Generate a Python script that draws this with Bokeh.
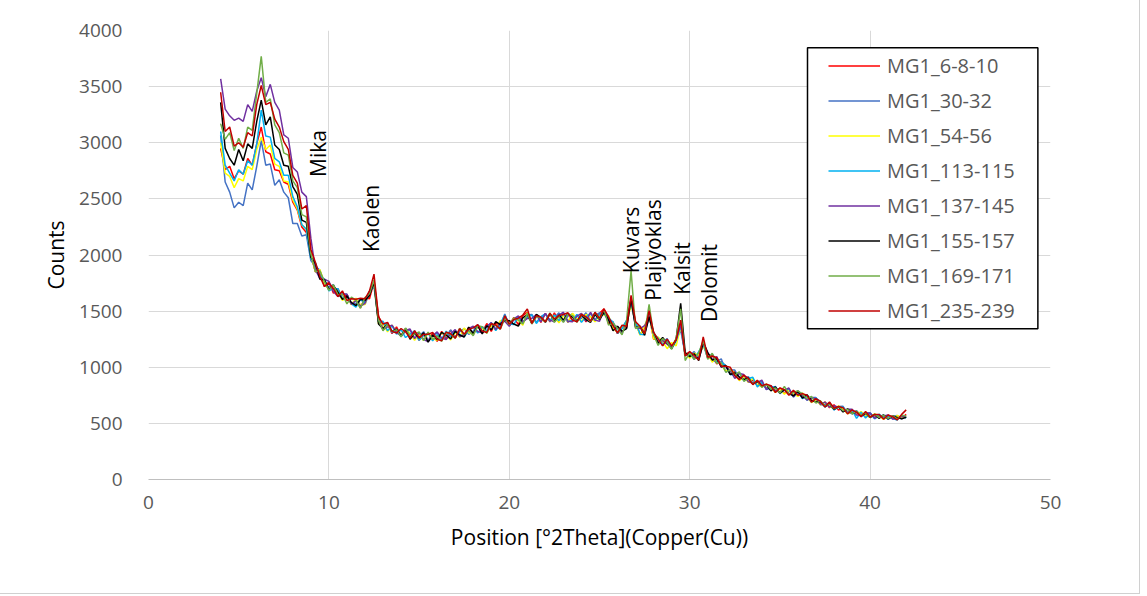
import numpy as np
from bokeh.plotting import figure
from bokeh.models import Range1d, FixedTicker, BoxAnnotation
from bokeh.core.properties import value
from bokeh.embed import file_html
from bokeh.resources import INLINE

# 2-theta positions (degrees), step 0.25 from 4 to 42
two_theta = np.round(np.arange(4.0, 42.001, 0.25), 2)

series_names = ["MG1_6-8-10", "MG1_30-32", "MG1_54-56", "MG1_113-115",
                "MG1_137-145", "MG1_155-157", "MG1_169-171", "MG1_235-239"]
series_colors = ["#FF0000", "#4472C4", "#FFFF00", "#00B0F0",
                 "#7030A0", "#000000", "#70AD47", "#C00000"]

mg1_6_8_10 = [
    2950, 2760, 2790, 2680, 2750, 2720, 2860, 2800, 2990, 3140, 2920, 2900,
    2760, 2750, 2650, 2630, 2470, 2400, 2250, 2200,
    2000, 1850, 1860, 1720, 1760, 1660, 1700, 1610, 1650, 1560, 1600, 1530,
    1620, 1610, 1760, 1460, 1330, 1390, 1300, 1360, 1280, 1345, 1260, 1320,
    1240, 1300, 1235, 1305, 1230, 1320, 1250, 1330, 1260, 1345, 1280, 1355,
    1290, 1370, 1310, 1390, 1320, 1400, 1345, 1450, 1370, 1445, 1380, 1460,
    1490, 1390, 1470, 1400, 1480, 1405, 1485, 1400, 1480, 1400, 1475, 1410,
    1475, 1405, 1480, 1420, 1480, 1520, 1390, 1380, 1300, 1365, 1350, 1600,
    1400, 1290, 1355, 1470, 1250, 1265, 1195, 1235, 1180, 1250, 1390, 1115,
    1135, 1070, 1125, 1215, 1080, 1105, 1030, 1050, 1010, 940, 960, 900,
    925, 870, 890, 835, 865, 810, 835, 790, 815, 765, 795, 750,
    780, 730, 750, 698, 718, 668, 690, 640, 665, 618, 640, 598,
    618, 578, 600, 565, 590, 552, 578, 545, 572, 540, 566, 545, 580]

mg1_30_32 = [
    3065, 2650, 2560, 2420, 2470, 2440, 2640, 2580, 2790, 3020, 2800, 2810,
    2620, 2670, 2560, 2510, 2280, 2280, 2170, 2180,
    1950, 1900, 1865, 1735, 1715, 1735, 1635, 1655, 1650, 1565, 1570, 1610,
    1560, 1665, 1720, 1400, 1375, 1395, 1305, 1340, 1275, 1320, 1330, 1260,
    1275, 1317, 1238, 1281, 1305, 1251, 1277, 1333, 1265, 1317, 1345, 1293,
    1321, 1379, 1312, 1365, 1393, 1341, 1370, 1475, 1370, 1420, 1447, 1395,
    1465, 1470, 1400, 1450, 1475, 1415, 1440, 1485, 1405, 1455, 1475, 1420,
    1435, 1485, 1415, 1465, 1485, 1475, 1415, 1405, 1310, 1350, 1415, 1570,
    1375, 1365, 1300, 1445, 1315, 1215, 1220, 1255, 1175, 1240, 1330, 1115,
    1105, 1140, 1070, 1205, 1120, 1055, 1050, 1075, 960, 975, 975, 895,
    900, 915, 860, 870, 870, 805, 810, 830, 765, 800, 800, 745,
    755, 770, 705, 730, 730, 665, 665, 685, 620, 650, 652, 592,
    595, 612, 560, 593, 595, 548, 560, 575, 535, 562, 570, 540, 560]

mg1_54_56 = [
    3000, 2730, 2700, 2600, 2680, 2660, 2790, 2760, 2940, 3050, 2940, 2980,
    2810, 2790, 2660, 2650, 2490, 2410, 2270, 2230,
    2005, 1855, 1870, 1750, 1690, 1720, 1670, 1595, 1625, 1555, 1615, 1555,
    1560, 1680, 1740, 1385, 1385, 1315, 1375, 1315, 1285, 1335, 1300, 1240,
    1295, 1237, 1308, 1256, 1240, 1306, 1287, 1243, 1310, 1267, 1350, 1308,
    1296, 1364, 1347, 1305, 1373, 1331, 1415, 1420, 1370, 1435, 1417, 1375,
    1485, 1390, 1470, 1425, 1410, 1470, 1450, 1395, 1460, 1405, 1480, 1435,
    1410, 1470, 1450, 1405, 1465, 1465, 1460, 1350, 1310, 1365, 1385, 1560,
    1395, 1285, 1370, 1470, 1250, 1270, 1230, 1165, 1220, 1190, 1360, 1130,
    1080, 1125, 1105, 1185, 1120, 1045, 1085, 1020, 965, 985, 945, 880,
    915, 865, 900, 845, 825, 850, 820, 775, 805, 760, 800, 760,
    740, 770, 735, 685, 710, 665, 690, 650, 630, 655, 627, 585,
    610, 580, 605, 570, 555, 585, 567, 535, 565, 544, 570, 547, 560]

mg1_113_115 = [
    3100, 2800, 2730, 2660, 2760, 2720, 2840, 2800, 2990, 3290, 3060, 3050,
    2860, 2830, 2710, 2710, 2520, 2430, 2270, 2230,
    1970, 1930, 1815, 1785, 1680, 1700, 1700, 1610, 1630, 1565, 1535, 1605,
    1575, 1675, 1750, 1405, 1410, 1325, 1370, 1295, 1335, 1265, 1295, 1325,
    1240, 1282, 1303, 1236, 1290, 1251, 1322, 1273, 1320, 1292, 1270, 1328,
    1361, 1304, 1362, 1325, 1398, 1326, 1385, 1465, 1385, 1380, 1452, 1405,
    1445, 1465, 1390, 1445, 1475, 1410, 1465, 1415, 1485, 1405, 1420, 1470,
    1400, 1450, 1480, 1420, 1470, 1475, 1440, 1400, 1300, 1345, 1415, 1580,
    1400, 1295, 1290, 1490, 1295, 1260, 1200, 1245, 1165, 1235, 1370, 1110,
    1130, 1070, 1140, 1205, 1080, 1120, 1045, 1045, 1015, 935, 930, 955,
    880, 900, 910, 825, 865, 805, 830, 820, 770, 795, 810, 735,
    780, 720, 745, 690, 725, 695, 645, 680, 620, 648, 645, 592,
    620, 545, 600, 548, 590, 540, 582, 546, 566, 544, 530, 572, 548]

mg1_137_145 = [
    3570, 3300, 3240, 3200, 3220, 3190, 3340, 3280, 3460, 3580, 3410, 3520,
    3360, 3290, 3070, 3040, 2780, 2740, 2560, 2520,
    2150, 1870, 1790, 1785, 1765, 1675, 1630, 1650, 1650, 1560, 1595, 1545,
    1570, 1675, 1760, 1410, 1335, 1360, 1375, 1310, 1280, 1330, 1340, 1255,
    1310, 1247, 1228, 1281, 1315, 1261, 1247, 1298, 1335, 1272, 1290, 1343,
    1366, 1319, 1307, 1360, 1398, 1336, 1395, 1410, 1365, 1430, 1457, 1405,
    1435, 1435, 1470, 1405, 1480, 1420, 1405, 1465, 1490, 1410, 1405, 1455,
    1480, 1410, 1490, 1420, 1410, 1510, 1440, 1380, 1360, 1305, 1390, 1620,
    1355, 1345, 1370, 1450, 1300, 1210, 1240, 1205, 1180, 1250, 1380, 1105,
    1125, 1085, 1085, 1210, 1130, 1065, 1095, 1000, 1010, 970, 900, 945,
    935, 870, 860, 865, 885, 800, 835, 790, 780, 795, 815, 735,
    790, 745, 710, 725, 720, 670, 690, 645, 655, 645, 605, 625,
    625, 575, 570, 590, 590, 545, 565, 565, 575, 540, 545, 560, 560]

mg1_155_157 = [
    3360, 2950, 2860, 2800, 2940, 2840, 2990, 2950, 3190, 3380, 3160, 3230,
    2980, 2940, 2800, 2790, 2610, 2540, 2310, 2290,
    1980, 1925, 1785, 1780, 1695, 1730, 1670, 1605, 1635, 1575, 1550, 1605,
    1595, 1640, 1760, 1385, 1345, 1385, 1320, 1340, 1280, 1345, 1250, 1300,
    1260, 1307, 1223, 1286, 1245, 1311, 1287, 1253, 1320, 1287, 1270, 1358,
    1301, 1369, 1297, 1370, 1333, 1406, 1380, 1420, 1415, 1385, 1367, 1440,
    1470, 1390, 1470, 1445, 1400, 1475, 1410, 1465, 1420, 1480, 1445, 1410,
    1465, 1425, 1400, 1470, 1425, 1490, 1425, 1325, 1365, 1320, 1345, 1610,
    1355, 1360, 1285, 1450, 1305, 1215, 1265, 1215, 1165, 1250, 1570, 1130,
    1095, 1120, 1060, 1225, 1130, 1065, 1075, 1005, 1015, 935, 950, 915,
    890, 905, 850, 875, 830, 845, 790, 825, 770, 800, 765, 745,
    785, 725, 755, 705, 690, 695, 650, 675, 625, 650, 602, 630,
    585, 605, 565, 590, 552, 580, 545, 575, 540, 565, 552, 540, 555]

mg1_169_171 = [
    3170, 3030, 3090, 2930, 3040, 2950, 3140, 3110, 3440, 3770, 3360, 3390,
    3160, 3090, 2910, 2890, 2660, 2600, 2360, 2340,
    2010, 1850, 1860, 1765, 1685, 1735, 1645, 1650, 1565, 1625, 1595, 1525,
    1620, 1655, 1780, 1420, 1325, 1385, 1315, 1335, 1270, 1350, 1275, 1295,
    1315, 1237, 1313, 1246, 1280, 1231, 1312, 1293, 1260, 1347, 1290, 1328,
    1281, 1369, 1362, 1302, 1388, 1371, 1340, 1435, 1380, 1440, 1422, 1385,
    1480, 1385, 1450, 1445, 1405, 1485, 1400, 1450, 1400, 1475, 1460, 1400,
    1470, 1445, 1405, 1490, 1430, 1515, 1375, 1395, 1345, 1290, 1410, 1860,
    1345, 1365, 1300, 1560, 1290, 1195, 1255, 1220, 1160, 1260, 1520, 1060,
    1130, 1070, 1130, 1235, 1070, 1125, 1035, 1040, 955, 980, 930, 960,
    875, 900, 850, 880, 820, 850, 805, 815, 770, 830, 760, 775,
    790, 760, 720, 740, 680, 700, 655, 675, 630, 650, 612, 625,
    585, 610, 575, 595, 555, 582, 552, 572, 545, 568, 540, 572, 565]

mg1_235_239 = [
    3450, 3100, 3140, 2970, 3000, 2960, 3090, 3060, 3340, 3510, 3340, 3360,
    3210, 3140, 3010, 2940, 2710, 2640, 2410, 2440,
    2050, 1935, 1810, 1720, 1750, 1700, 1630, 1680, 1595, 1610, 1605, 1615,
    1610, 1680, 1830, 1450, 1385, 1400, 1320, 1305, 1345, 1315, 1260, 1325,
    1265, 1292, 1293, 1311, 1250, 1236, 1312, 1298, 1260, 1342, 1295, 1338,
    1351, 1379, 1322, 1310, 1388, 1376, 1340, 1460, 1385, 1425, 1437, 1465,
    1520, 1390, 1460, 1445, 1405, 1480, 1430, 1460, 1470, 1485, 1420, 1405,
    1470, 1450, 1410, 1490, 1435, 1520, 1450, 1370, 1305, 1375, 1365, 1640,
    1405, 1365, 1300, 1505, 1310, 1250, 1190, 1250, 1190, 1245, 1420, 1100,
    1140, 1105, 1065, 1270, 1090, 1100, 1085, 1010, 1010, 1000, 925, 890,
    930, 900, 845, 885, 835, 850, 835, 775, 815, 800, 750, 795,
    750, 765, 750, 690, 720, 695, 645, 690, 635, 650, 640, 585,
    620, 600, 560, 605, 557, 580, 580, 538, 575, 560, 530, 580, 620]

series_values = [mg1_6_8_10, mg1_30_32, mg1_54_56, mg1_113_115,
                 mg1_137_145, mg1_155_157, mg1_169_171, mg1_235_239]

# peak labels
peak_labels = ["Mika", "Kaolen", "Kuvars", "Plajiyoklas", "Kalsit", "Dolomit"]
peak_label_x = [9.42, 12.31, 26.77, 27.99, 29.55, 31.07]
peak_label_y = [2904, 2325, 2134, 2045, 1880, 1751]

x_ticks = [0, 10, 20, 30, 40, 50]
y_ticks = [0, 500, 1000, 1500, 2000, 2500, 3000, 3500, 4000]

for s in series_values:
    assert len(s) == len(two_theta), len(s)

FONT = "Open Sans"

p = figure(width=1139, height=593, output_backend="svg", toolbar_location=None,
           x_range=Range1d(0, 50), y_range=Range1d(0, 4000),
           min_border_left=148, min_border_right=89,
           min_border_top=30, min_border_bottom=114)
p.styles = {"outline": "1px solid #D0D0D0"}
p.outline_line_color = None
p.background_fill_color = "white"
p.border_fill_color = "white"

p.xaxis.ticker = FixedTicker(ticks=x_ticks)
p.yaxis.ticker = FixedTicker(ticks=y_ticks)
p.grid.grid_line_color = "#D9D9D9"
p.grid.grid_line_width = 1
p.xaxis.axis_line_color = "#BFBFBF"
p.yaxis.axis_line_color = None
p.axis.major_tick_line_color = None
p.axis.minor_tick_line_color = None
p.axis.major_tick_out = 0
p.axis.major_tick_in = 0
p.axis.major_label_text_font = FONT
p.axis.major_label_text_font_size = "19px"
p.axis.major_label_text_color = "#595959"
p.xaxis.major_label_standoff = 16
p.yaxis.major_label_standoff = 26

p.xaxis.axis_label = "Position [°2Theta](Copper(Cu))"
p.yaxis.axis_label = "Counts"
p.axis.axis_label_text_font = FONT
p.axis.axis_label_text_font_size = "21px"
p.axis.axis_label_text_font_style = "normal"
p.axis.axis_label_text_color = "#000000"
p.xaxis.axis_label_standoff = 11
p.yaxis.axis_label_standoff = 6

# legend frame
legend_box = BoxAnnotation(left=36.53, right=49.3, bottom=1342, top=3846,
                           fill_color="white", fill_alpha=1.0,
                           line_color="black", line_width=1.5, line_alpha=1.0)
p.add_layout(legend_box)

for name, color, vals in zip(series_names, series_colors, series_values):
    p.line(two_theta, vals, line_color=color, line_width=1.5, legend_label=name)

p.text(x=peak_label_x, y=peak_label_y, text=peak_labels, angle=np.pi / 2,
       text_font=value(FONT), text_font_size="21px", text_color="black",
       text_align="center", text_baseline="middle")

lg = p.legend[0]
lg.location = (680, 155)
lg.padding = 0
lg.margin = 0
lg.spacing = 8
lg.label_height = 27
lg.glyph_height = 27
lg.glyph_width = 52
lg.label_standoff = 7
lg.label_text_font = FONT
lg.label_text_font_size = "20px"
lg.label_text_color = "#595959"
lg.border_line_color = None
lg.background_fill_alpha = 0

open("out.html", "w").write(file_html(p, INLINE))
